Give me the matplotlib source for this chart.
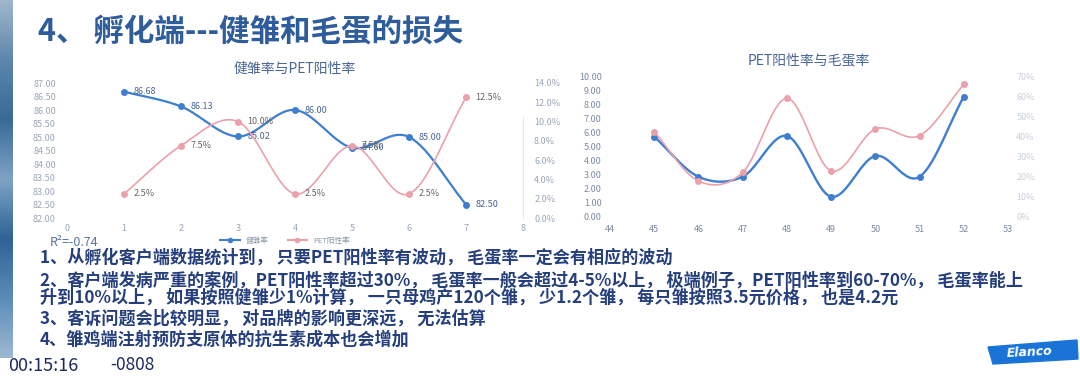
import numpy as np
import matplotlib.pyplot as plt
from matplotlib.patches import Polygon
from matplotlib.colors import LinearSegmentedColormap

plt.rcParams['font.family'] = ['Noto Sans CJK SC', 'DejaVu Sans']

# 左图数据：健雏率与PET阳性率
weeks_left = [1, 2, 3, 4, 5, 6, 7]
healthy_rate = [86.68, 86.13, 85.02, 86.00, 84.60, 85.00, 82.50]
pet_rate_left = [2.5, 7.5, 10.0, 2.5, 7.5, 2.5, 12.5]
healthy_labels = ['86.68', '86.13', '85.02', '86.00', '84.60', '85.00', '82.50']
pet_labels_left = ['2.5%', '7.5%', '10.0%', '2.5%', '7.5%', '2.5%', '12.5%']

# 右图数据：PET阳性率与毛蛋率
weeks_right = [45, 46, 47, 48, 49, 50, 51, 52]
egg_rate = [5.74, 2.88, 2.88, 5.79, 1.45, 4.36, 2.88, 8.60]
pet_rate_right = [42.6, 18.0, 22.3, 59.3, 23.0, 44.0, 40.7, 66.3]

BLUE = '#3f7fcf'
PINK = '#eaa1ab'
TICK = '#9aa6b8'
TITLE = '#2f5d9c'
BODY = '#253f7c'


def smooth(x, y, n=30):
    # Catmull-Rom 曲线，模拟 Excel 的平滑线
    x = np.asarray(x, float)
    y = np.asarray(y, float)
    px = np.concatenate([[2 * x[0] - x[1]], x, [2 * x[-1] - x[-2]]])
    py = np.concatenate([[2 * y[0] - y[1]], y, [2 * y[-1] - y[-2]]])
    xs, ys = [], []
    t = np.linspace(0, 1, n)
    for i in range(1, len(px) - 2):
        for p, out in ((px, xs), (py, ys)):
            p0, p1, p2, p3 = p[i - 1], p[i], p[i + 1], p[i + 2]
            out.append(0.5 * (2 * p1 + (-p0 + p2) * t + (2 * p0 - 5 * p1 + 4 * p2 - p3) * t ** 2
                              + (-p0 + 3 * p1 - 3 * p2 + p3) * t ** 3))
    return np.concatenate(xs), np.concatenate(ys)


fig = plt.figure(figsize=(10.8, 3.76), dpi=100)
fig.patch.set_facecolor('white')

# 左侧蓝色渐变边
edge = fig.add_axes([0, 18 / 376, 13 / 1080, 358 / 376])
edge_cmap = LinearSegmentedColormap.from_list(
    'edge', ['#9fb6cc', '#5d86ab', '#3a6a96', '#7fa3c4', '#2f6395', '#5b8bb8', '#9cb8d2'])
edge.imshow(np.linspace(0, 1, 200).reshape(-1, 1), aspect='auto', cmap=edge_cmap)
edge.axis('off')

# ---------- 左图 ----------
ax1 = fig.add_axes([67 / 1080, 1 - 218 / 376, 456 / 1080, 135 / 376])
ax2 = ax1.twinx()
bx, by = smooth(weeks_left, healthy_rate)
ax1.plot(bx, by, color=BLUE, lw=1.6, zorder=3)
ax1.plot(weeks_left, healthy_rate, 'o', color=BLUE, ms=4, zorder=4)
px_, py_ = smooth(weeks_left, pet_rate_left)
ax2.plot(px_, py_, color=PINK, lw=1.2, zorder=2)
ax2.plot(weeks_left, pet_rate_left, 'o', color=PINK, ms=4, zorder=2)
for x, y, s in zip(weeks_left, healthy_rate, healthy_labels):
    ax1.annotate(s, (x, y), xytext=(7, 0), textcoords='offset points', va='center',
                 fontsize=6.5, color='#4b6596')
for x, y, s in zip(weeks_left, pet_rate_left, pet_labels_left):
    ax2.annotate(s, (x, y), xytext=(7, 0), textcoords='offset points', va='center',
                 fontsize=6.5, color='#666666')
ax1.set_xlim(0, 8)
ax1.set_ylim(82, 87)
ax2.set_ylim(0, 14)
ax1.set_xticks(range(0, 9))
ax1.set_yticks(np.arange(82, 87.01, 0.5))
ax1.yaxis.set_major_formatter(lambda v, p: f'{v:.2f}')
ax2.set_yticks(np.arange(0, 14.01, 2))
ax2.yaxis.set_major_formatter(lambda v, p: f'{v:.1f}%')
for a in (ax1, ax2):
    a.patch.set_alpha(0)
    a.tick_params(length=0, labelsize=6.5, labelcolor=TICK, pad=8)
    for sp in a.spines.values():
        sp.set_visible(False)
ax1.tick_params(axis='x', pad=4)
ax2.spines['right'].set_visible(True)
ax2.spines['right'].set_bounds(0, 10.5)
ax2.spines['right'].set_color('#e3e8f0')
ax1.set_title('健雏率与PET阳性率', fontsize=10, color='#4a6796', pad=7)

fig.text(50 / 1080, 1 - 243 / 376, 'R²=-0.74', fontsize=9, color='#5a74a0', va='center')
fig.legend(handles=[ax1.lines[1], ax2.lines[1]], labels=['健雏率', 'PET阳性率'],
           loc='center', bbox_to_anchor=(285 / 1080, 1 - 241 / 376), ncol=2, frameon=False,
           fontsize=5.5, labelcolor='#8a96aa', handlelength=2.5, columnspacing=2.5)
leg = fig.legends[0]
for h, c in zip(leg.legend_handles, [BLUE, PINK]):
    h.set_linestyle('-')
    h.set_color(c)
    h.set_markersize(3)

# ---------- 右图 ----------
ax3 = fig.add_axes([610 / 1080, 1 - 217 / 376, 398 / 1080, 140 / 376])
ax4 = ax3.twinx()
ex, ey = smooth(weeks_right, egg_rate)
ax3.plot(ex, ey, color=BLUE, lw=1.7, zorder=3)
ax3.plot(weeks_right, egg_rate, 'o', color=BLUE, ms=4, zorder=4)
qx, qy = smooth(weeks_right, pet_rate_right)
ax4.plot(qx, qy, color=PINK, lw=1.2)
ax4.plot(weeks_right, pet_rate_right, 'o', color=PINK, ms=4)
ax3.set_xlim(44, 53)
ax3.set_ylim(0, 10)
ax4.set_ylim(0, 70)
ax3.set_xticks(range(44, 54))
ax3.set_yticks(range(0, 11))
ax3.yaxis.set_major_formatter(lambda v, p: f'{v:.2f}')
ax4.set_yticks(range(0, 71, 10))
ax4.yaxis.set_major_formatter(lambda v, p: f'{v:.0f}%')
for a in (ax3, ax4):
    a.patch.set_alpha(0)
    a.tick_params(length=0, labelsize=6.5, labelcolor='#7c8aa3', pad=6)
    for sp in a.spines.values():
        sp.set_visible(False)
ax4.tick_params(labelcolor='#c9d0dc')
ax3.set_title('PET阳性率与毛蛋率', fontsize=10, color='#4a6796', pad=9)

# ---------- 标题与正文 ----------
fig.text(38 / 1080, 1 - 31 / 376, '4、 孵化端---健雏和毛蛋的损失', fontsize=22,
         fontweight='bold', color=TITLE, va='center')

body = [
    (258, '1、从孵化客户端数据统计到， 只要PET阳性率有波动， 毛蛋率一定会有相应的波动'),
    (281, '2、客户端发病严重的案例，PET阳性率超过30%， 毛蛋率一般会超过4-5%以上， 极端例子，PET阳性率到60-70%， 毛蛋率能上'),
    (298, '升到10%以上， 如果按照健雏少1%计算， 一只母鸡产120个雏， 少1.2个雏， 每只雏按照3.5元价格， 也是4.2元'),
    (319, '3、客诉问题会比较明显， 对品牌的影响更深远， 无法估算'),
    (340, '4、雏鸡端注射预防支原体的抗生素成本也会增加'),
]
for y, s in body:
    fig.text(40 / 1080, 1 - y / 376, s, fontsize=12.3, fontweight='bold', color=BODY, va='center')

# 时间戳
fig.text(8 / 1080, 1 - 366 / 376, '00:15:16', fontsize=13, color='#1c2b5c', va='center')
fig.text(110 / 1080, 1 - 365 / 376, '-0808', fontsize=12.5, color='#1c2b5c', va='center')

# Elanco 标志
logo = Polygon([[988 / 1080, 1 - 347 / 376], [1077 / 1080, 1 - 340 / 376],
                [1078 / 1080, 1 - 359 / 376], [993 / 1080, 1 - 364 / 376]],
               closed=True, transform=fig.transFigure, color='#1a74d8')
fig.patches.append(logo)
fig.text(1030 / 1080, 1 - 352 / 376, 'Elanco', fontsize=9, fontweight='bold', style='italic',
         color='white', ha='center', va='center', rotation=3, family='DejaVu Sans')

fig.savefig('out.png', dpi=100)
